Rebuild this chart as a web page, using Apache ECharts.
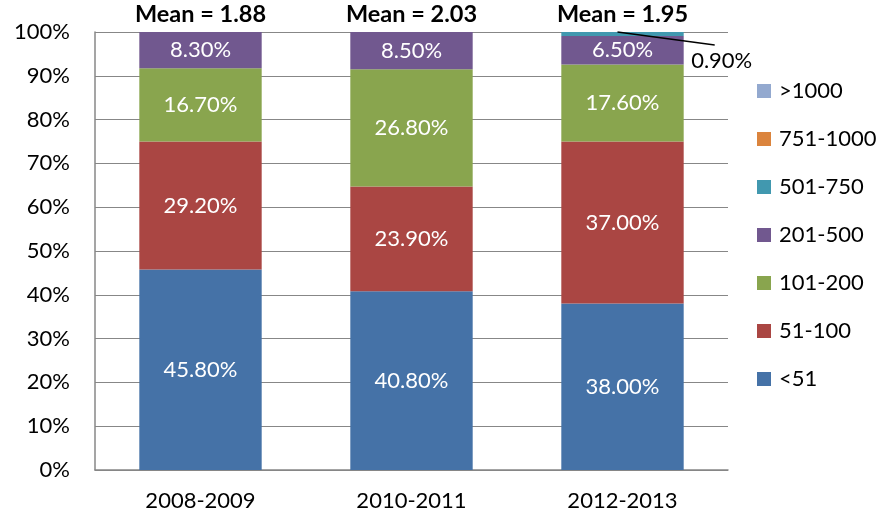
<!DOCTYPE html>
<html>
<head>
<meta charset="utf-8">
<script src="https://cdn.jsdelivr.net/npm/echarts@6/dist/echarts.min.js"></script>
<style>html,body{margin:0;padding:0;background:#fff}#c{width:881px;height:519px}</style>
</head>
<body>
<div id="c"></div>
<script>
var categories = ['2008-2009', '2010-2011', '2012-2013'];
var seriesNames = ['<51', '51-100', '101-200', '201-500', '501-750', '751-1000', '>1000'];
var lt51 = [45.8, 40.8, 38.0];
var s51_100 = [29.2, 23.9, 37.0];
var s101_200 = [16.7, 26.8, 17.6];
var s201_500 = [8.3, 8.5, 6.5];
var s501_750 = [0, 0, 0.9];
var s751_1000 = [0, 0, 0];
var gt1000 = [0, 0, 0];
var means = ['1.88', '2.03', '1.95'];
var yTicks = [0, 10, 20, 30, 40, 50, 60, 70, 80, 90, 100];

var colors = ['#4572A7', '#AA4643', '#89A54E', '#71588F', '#4198AF', '#DB843D', '#93A9CF'];
var allData = [lt51, s51_100, s101_200, s201_500, s501_750, s751_1000, gt1000];
var FONT = 'Lato';

var series = allData.map(function (d, i) {
  var s = {
    name: seriesNames[i],
    type: 'bar',
    stack: 'total',
    barWidth: '58%',
    itemStyle: { color: colors[i] },
    data: d,
    label: {
      show: true,
      position: 'inside',
      color: '#fff',
      fontFamily: FONT,
      fontSize: 22,
      formatter: function (p) { return p.value > 0 ? p.value.toFixed(2) + '%' : ''; }
    }
  };
  if (i === 4) {
    s.label.color = '#000';
    s.labelLayout = function (p) {
      var r = p.rect;
      return {
        x: r.x + r.width + 38,
        y: r.y + 29,
        align: 'center',
        verticalAlign: 'middle'
      };
    };
  }
  return s;
});

series.push({
  name: 'Mean',
  type: 'bar',
  stack: 'total',
  barWidth: '58%',
  data: [0, 0, 0],
  itemStyle: { color: 'transparent' },
  label: {
    show: true,
    position: 'top',
    distance: 6,
    color: '#000',
    fontFamily: FONT,
    fontWeight: 'bold',
    fontSize: 23.5,
    formatter: function (p) { return 'Mean = ' + means[p.dataIndex]; }
  }
});

var chart = echarts.init(document.getElementById('c'), null, { renderer: 'canvas' });
chart.setOption({
  animation: false,
  textStyle: { fontFamily: FONT },
  grid: { left: 95, right: 153, top: 32, bottom: 49 },
  legend: {
    orient: 'vertical',
    left: 757,
    top: 80,
    padding: 0,
    itemWidth: 14,
    itemHeight: 14,
    itemGap: 26,
    icon: 'rect',
    data: seriesNames.slice().reverse(),
    textStyle: { fontFamily: FONT, fontSize: 22, color: '#000', padding: [0, 0, 0, 3] }
  },
  xAxis: {
    type: 'category',
    data: categories,
    axisLine: { lineStyle: { color: '#878787', width: 1.5 } },
    axisTick: { show: false },
    axisLabel: { color: '#000', fontSize: 22, fontFamily: FONT, margin: 20 }
  },
  yAxis: {
    type: 'value',
    min: yTicks[0],
    max: yTicks[yTicks.length - 1],
    interval: 10,
    axisLine: { show: true, lineStyle: { color: '#878787', width: 1.5 } },
    axisTick: { show: false },
    splitLine: { lineStyle: { color: '#878787', width: 1.2 } },
    axisLabel: { color: '#000', fontSize: 22, fontFamily: FONT, margin: 25, formatter: '{value}%' }
  },
  series: series
});

// leader line for the small 501-750 segment, placed via the chart's own scales
var lines = [];
s501_750.forEach(function (v, idx) {
  if (v <= 0) return;
  var base = lt51[idx] + s51_100[idx] + s101_200[idx] + s201_500[idx];
  var top = chart.convertToPixel({ xAxisIndex: 0, yAxisIndex: 0 }, [idx, base + v]);
  var bw = chart.getModel().getSeriesByIndex(4).getData().getItemLayout(idx).width;
  lines.push({
    type: 'polyline',
    shape: { points: [[top[0] - 5, top[1]], [top[0] + bw / 2 + 31, top[1] + 13]] },
    style: { stroke: '#000', lineWidth: 1.3, fill: null },
    z: 100
  });
});
chart.setOption({ graphic: lines });
</script>
</body>
</html>
